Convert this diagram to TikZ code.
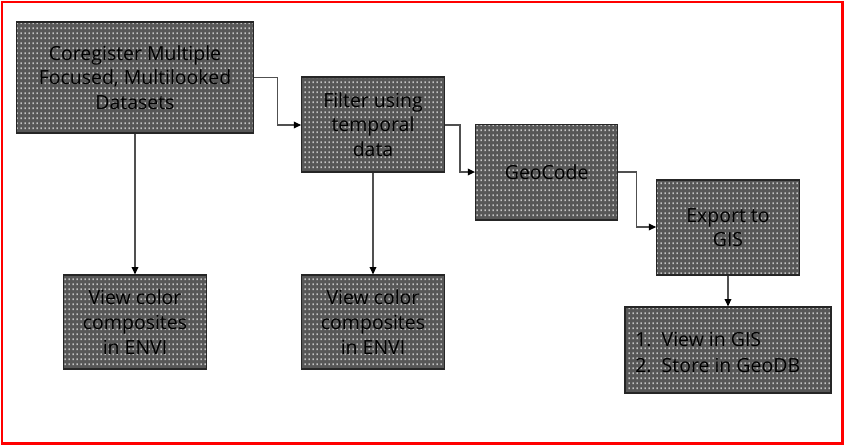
\documentclass[tikz,border=0pt]{standalone}
\usepackage{fontspec}
\setmainfont{Open Sans}
\usetikzlibrary{patterns.meta,arrows.meta}
\definecolor{boxgray}{HTML}{575757}
\definecolor{linegray}{HTML}{505050}
\tikzdeclarepattern{name=mydots, type=uncolored,
  bounding box={(0,0) and (3pt,3.6pt)}, tile size={(3pt,3.6pt)},
  code={\fill (0.6pt,0.6pt) rectangle (1.55pt,2pt);}}
\tikzset{
  dotbox/.style={draw=black!85, line width=0.9pt, preaction={fill=boxgray},
    pattern=mydots, pattern color=white, inner sep=0pt, align=center,
    font=\fontsize{14.6}{18.5}\selectfont, text=black},
  conn/.style={draw=linegray, line width=1pt, -{Triangle[length=5.5pt,width=5pt,color=black]}},
}
\begin{document}
\begin{tikzpicture}[x=0.75pt,y=-0.75pt]
\useasboundingbox (0,0) rectangle (845,447);
\draw[red, line width=1.6pt] (2,2) rectangle (842.5,443.5);
\node[dotbox, minimum width=237*0.75pt, minimum height=111*0.75pt] (b1) at (135,77.5)
  {Coregister Multiple\\Focused, Multilooked\\Datasets};
\node[dotbox, minimum width=142.5*0.75pt, minimum height=95*0.75pt] (b2) at (373,124.5)
  {Filter using\\temporal\\data};
\node[dotbox, minimum width=142*0.75pt, minimum height=95.5*0.75pt] (b3) at (546.7,172.3)
  {GeoCode};
\node[dotbox, minimum width=142.5*0.75pt, minimum height=95*0.75pt] (b4) at (728,227.5)
  {Export to\\GIS};
\node[dotbox, minimum width=143.5*0.75pt, minimum height=94*0.75pt] (b5) at (135,322)
  {View color\\composites\\in ENVI};
\node[dotbox, minimum width=142.5*0.75pt, minimum height=94*0.75pt] (b6) at (373,322)
  {View color\\composites\\in ENVI};
\node[dotbox, minimum width=206*0.75pt, minimum height=86*0.75pt] (b7) at (728,350)
  {};
\node[anchor=west, align=left, font=\fontsize{14.6}{19.5}\selectfont, inner sep=0pt] (t7) at (635,352)
  {1.\ \ View in GIS\\2.\ \ Store in GeoDB};
\coordinate (c1) at (277.7,0);
\coordinate (c2) at (460,0);
\coordinate (c3) at (636.7,0);
\draw[conn] (b1.east |- 0,77.7) -| (c1 |- 0,125) -- (b2.west |- 0,125);
\draw[conn] (b2.east |- 0,125) -| (c2 |- 0,172) -- (b3.west |- 0,172);
\draw[conn] (b3.east |- 0,172) -| (c3 |- 0,227) -- (b4.west |- 0,227);
\draw[conn] (b1.south) -- (b5.north);
\draw[conn] (b2.south) -- (b6.north);
\draw[conn] (b4.south) -- (b7.north);
\end{tikzpicture}
\end{document}
